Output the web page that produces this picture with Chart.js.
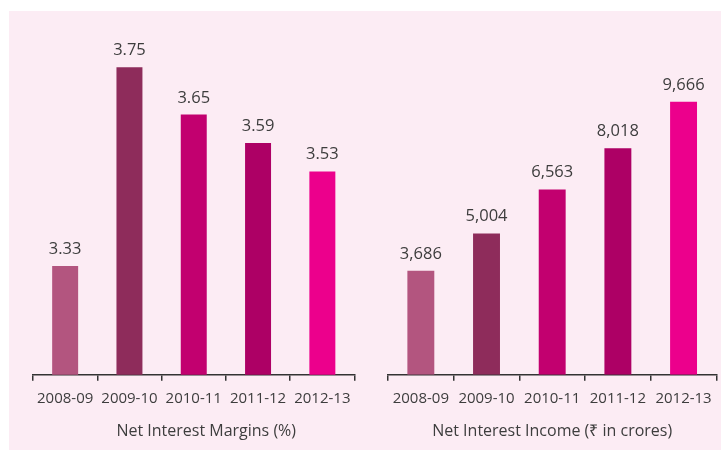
<!DOCTYPE html>
<html>
<head>
<meta charset="utf-8">
<script src="https://cdn.jsdelivr.net/npm/chart.js@4"></script>
<style>
  html, body { margin: 0; padding: 0; background: #ffffff; }
  #bg { position: absolute; left: 9px; top: 11px; width: 712px; height: 439px; background: #fcecf4; }
  #left { position: absolute; left: 0; top: 0; }
  #right { position: absolute; left: 360px; top: 0; }
</style>
</head>
<body>
<div id="bg"></div>
<canvas id="left" width="360" height="450"></canvas>
<canvas id="right" width="361" height="450"></canvas>
<script>
const years = ["2008-09", "2009-10", "2010-11", "2011-12", "2012-13"];
const marginValues = [3.33, 3.75, 3.65, 3.59, 3.53];
const incomeValues = [3686, 5004, 6563, 8018, 9666];
const barColors = ["#b3557f", "#8e2c5b", "#c2006f", "#ad0065", "#ec008c"];

const textColor = "#3d3d3d";
const font = "'Open Sans', sans-serif";

// value labels above each bar
const barLabels = {
  id: "barLabels",
  afterDatasetsDraw(chart, args, opts) {
    const ctx = chart.ctx;
    const meta = chart.getDatasetMeta(0);
    ctx.save();
    ctx.fillStyle = textColor;
    ctx.font = "16.5px " + font;
    ctx.textAlign = "center";
    ctx.textBaseline = "alphabetic";
    meta.data.forEach((bar, i) => {
      const v = chart.data.datasets[0].data[i];
      ctx.fillText(opts.format(v), bar.x, bar.y - 12);
    });
    ctx.restore();
  }
};

function makeChart(canvasId, values, min, max, title, format, pad, barPct) {
  new Chart(document.getElementById(canvasId), {
    type: "bar",
    data: {
      labels: years,
      datasets: [{
        data: values,
        backgroundColor: barColors,
        categoryPercentage: 1,
        barPercentage: barPct
      }]
    },
    options: {
      responsive: false,
      animation: false,
      layout: { padding: pad },
      plugins: {
        legend: { display: false },
        tooltip: { enabled: false },
        barLabels: { format: format }
      },
      scales: {
        y: { display: false, min: min, max: max },
        x: {
          grid: { drawOnChartArea: false, drawTicks: true, tickLength: 6, color: "#333333", lineWidth: 1.5 },
          border: { color: "#333333", width: 1.5 },
          ticks: { color: textColor, font: { family: font, size: 15 }, padding: 9, maxRotation: 0, autoSkip: false },
          title: {
            display: true,
            text: title,
            color: textColor,
            font: { family: font, size: 16 },
            padding: { top: 5, bottom: 4 }
          }
        }
      }
    },
    plugins: [barLabels]
  });
}

// leading spaces nudge the left title to the right, as in the original
makeChart("left", marginValues, 3.1, 3.85, "      Net Interest Margins (%)",
  v => v.toFixed(2), { left: 33, right: 5, top: 20, bottom: 5 }, 0.404);
makeChart("right", incomeValues, 0, 12560, "Net Interest Income (₹ in crores)",
  v => v.toLocaleString("en-US"), { left: 28, right: 3, top: 20, bottom: 5 }, 0.41);
</script>
</body>
</html>
